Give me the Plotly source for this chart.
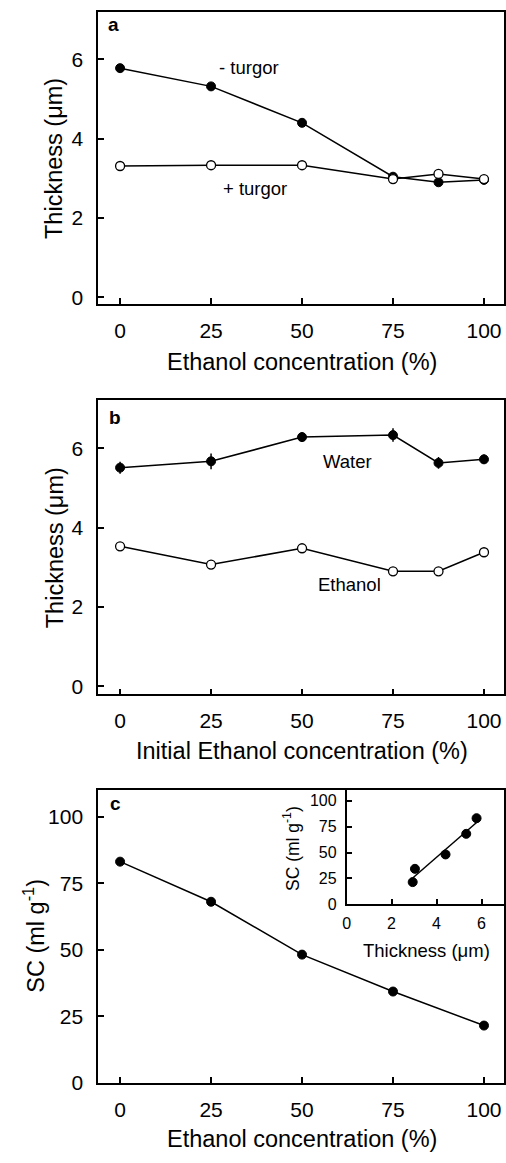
import numpy as np
import plotly.graph_objects as go

W, H = 506, 1163

# ---- data ----
conc_a = [0, 25, 50, 75, 87.5, 100]
minus_turgor = [5.78, 5.32, 4.40, 3.04, 2.90, 2.96]
plus_turgor = [3.31, 3.33, 3.33, 2.98, 3.11, 2.98]

conc_b = [0, 25, 50, 75, 87.5, 100]
water = [5.51, 5.67, 6.28, 6.33, 5.63, 5.72]
water_err = [0.15, 0.20, 0.12, 0.17, 0.15, 0.12]
ethanol = [3.53, 3.07, 3.48, 2.90, 2.90, 3.38]

conc_c = [0, 25, 50, 75, 100]
sc = [83.2, 68.1, 48.2, 34.3, 21.5]
thick_inset = [5.78, 5.32, 4.40, 3.04, 2.94]

FONT = "Liberation Sans, Arial, sans-serif"


def px_x(p):
    return p / W


def px_y(p):
    return 1 - p / H


fig = go.Figure()

mk_fill = dict(symbol="circle", size=9, color="black", line=dict(color="black", width=1))
mk_open = dict(symbol="circle", size=9, color="white", line=dict(color="black", width=1.3))
ln = dict(color="black", width=1.5)

# panel a
fig.add_trace(go.Scatter(x=conc_a, y=minus_turgor, mode="lines+markers", marker=mk_fill, line=ln,
                         xaxis="x", yaxis="y", showlegend=False))
fig.add_trace(go.Scatter(x=conc_a, y=plus_turgor, mode="lines+markers", marker=mk_open, line=ln,
                         xaxis="x", yaxis="y", showlegend=False))
# panel b
fig.add_trace(go.Scatter(x=conc_b, y=ethanol, mode="lines+markers", marker=mk_open, line=ln,
                         xaxis="x2", yaxis="y2", showlegend=False))
fig.add_trace(go.Scatter(x=conc_b, y=water, mode="lines+markers", marker=mk_fill, line=ln,
                         error_y=dict(type="data", array=water_err, visible=True, width=0,
                                      thickness=1.5, color="black"),
                         xaxis="x2", yaxis="y2", showlegend=False))
# panel c
fig.add_trace(go.Scatter(x=conc_c, y=sc, mode="lines+markers", marker=mk_fill, line=ln,
                         xaxis="x3", yaxis="y3", showlegend=False))
# inset
slope, intercept = np.polyfit(thick_inset, sc, 1)
fit_x = [min(thick_inset), max(thick_inset)]
fit_y = [slope * v + intercept for v in fit_x]
fig.add_trace(go.Scatter(x=fit_x, y=fit_y, mode="lines", line=ln,
                         xaxis="x4", yaxis="y4", showlegend=False))
fig.add_trace(go.Scatter(x=thick_inset, y=sc, mode="markers", marker=mk_fill,
                         xaxis="x4", yaxis="y4", showlegend=False))


def axis_common(**kw):
    d = dict(showline=True, linecolor="black", linewidth=1.5, mirror=True,
             ticks="inside", ticklen=6, tickwidth=1.5, tickcolor="black",
             showgrid=False, zeroline=False, fixedrange=True,
             tickfont=dict(family=FONT, size=21, color="black"))
    d.update(kw)
    return d


xdom = [px_x(95), px_x(505)]
xr = [-6.05, 105.5]
xt = [0, 25, 50, 75, 100]

fig.update_layout(
    width=W, height=H, margin=dict(l=0, r=0, t=0, b=0),
    paper_bgcolor="white", plot_bgcolor="white",
    xaxis=axis_common(domain=xdom, range=xr, tickvals=xt, anchor="y", ticklabelstandoff=7),
    yaxis=axis_common(domain=[px_y(307), px_y(12)], range=[-0.175, 7.2], tickvals=[0, 2, 4, 6],
                      anchor="x", ticklabelstandoff=9),
    xaxis2=axis_common(domain=xdom, range=xr, tickvals=xt, anchor="y2", ticklabelstandoff=7),
    yaxis2=axis_common(domain=[px_y(701), px_y(404)], range=[-0.2, 7.21], tickvals=[0, 2, 4, 6],
                       anchor="x2", ticklabelstandoff=9),
    xaxis3=axis_common(domain=xdom, range=xr, tickvals=xt, anchor="y3", ticklabelstandoff=7),
    yaxis3=axis_common(domain=[px_y(1093), px_y(798)], range=[0, 110], tickvals=[0, 25, 50, 75, 100],
                       anchor="x3", ticklabelstandoff=9),
    xaxis4=axis_common(domain=[px_x(346), px_x(505)], range=[0, 7], tickvals=[0, 2, 4, 6], anchor="y4",
                       tickfont=dict(family=FONT, size=16, color="black"), ticklabelstandoff=4),
    yaxis4=axis_common(domain=[px_y(913), px_y(798)], range=[0, 110], tickvals=[0, 25, 50, 75, 100],
                       anchor="x4", tickfont=dict(family=FONT, size=16, color="black"),
                       ticklabelstandoff=5),
)

ann = []


def add_text(text, x, y, size, bold=False, angle=0):
    ann.append(dict(text=("<b>%s</b>" % text) if bold else text, x=px_x(x), y=px_y(y),
                    xref="paper", yref="paper", showarrow=False, textangle=angle,
                    xanchor="center", yanchor="middle",
                    font=dict(family=FONT, size=size, color="black")))


# panel letters
add_text("a", 111, 25, 19, bold=True)
add_text("b", 112, 421, 19, bold=True)
add_text("c", 113, 811, 19, bold=True)
# series labels
add_text("- turgor", 247, 68, 18.5)
add_text("+ turgor", 253, 190, 18.5)
add_text("Water", 347, 466, 18.5)
add_text("Ethanol", 349, 590, 18.5)
# axis titles
add_text("Ethanol concentration (%)", 301, 365, 23.5)
add_text("Thickness (μm)", 51, 160, 23.5, angle=-90)
add_text("Initial Ethanol concentration (%)", 301, 758, 23.5)
add_text("Thickness (μm)", 51, 553, 23.5, angle=-90)
add_text("Ethanol concentration (%)", 301, 1150, 23.5)
add_text("SC (ml g<sup>-1</sup>)", 30, 945, 23.5, angle=-90)
add_text("Thickness (μm)", 427, 960, 18.5)
add_text("SC (ml g<sup>-1</sup>)", 290, 857, 17.5, angle=-90)

fig.update_layout(annotations=ann)

fig.write_html("out.html")
